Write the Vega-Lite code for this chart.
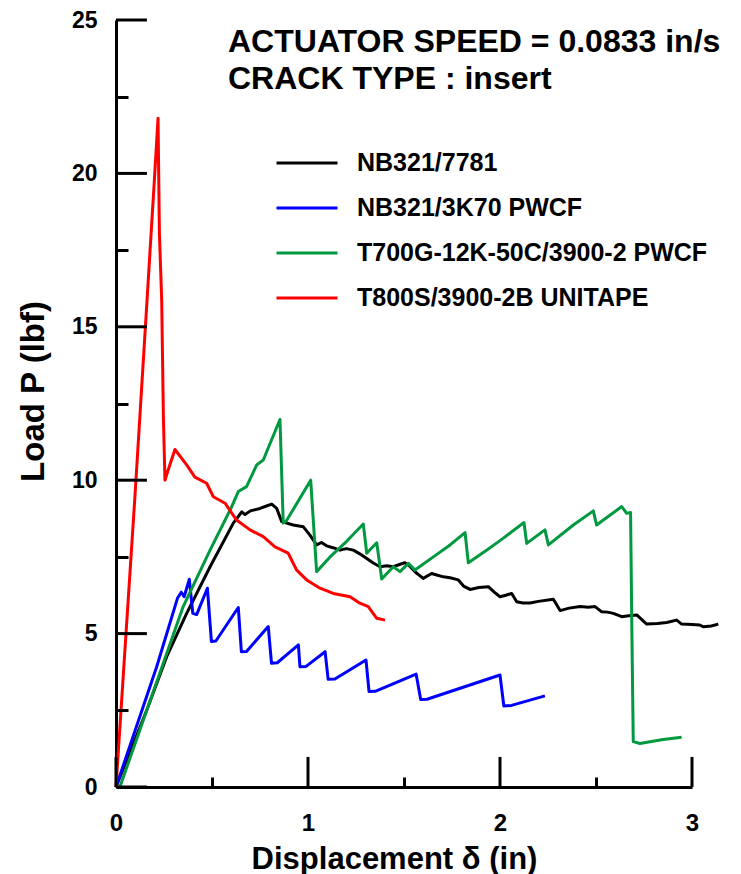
{
  "$schema": "https://vega.github.io/schema/vega-lite/v6.json",
  "width": 576,
  "height": 767,
  "autosize": "none",
  "padding": {"left": 116, "top": 20, "right": 49, "bottom": 87},
  "background": "white",
  "title": {
    "text": ["ACTUATOR SPEED = 0.0833 in/s", "CRACK TYPE : insert"],
    "anchor": "start",
    "frame": "group",
    "orient": "top",
    "offset": 0,
    "dx": 112,
    "dy": 112,
    "font": "Liberation Sans",
    "fontSize": 32,
    "fontWeight": "bold",
    "color": "black",
    "lineHeight": 37,
    "baseline": "alphabetic"
  },
  "datasets": {
    "curves": [
      {"series": "NB321/7781", "x": 0, "y": 0},
      {"series": "NB321/7781", "x": 0.16, "y": 2.5},
      {"series": "NB321/7781", "x": 0.264, "y": 4.25},
      {"series": "NB321/7781", "x": 0.368, "y": 5.66},
      {"series": "NB321/7781", "x": 0.49, "y": 7.18},
      {"series": "NB321/7781", "x": 0.611, "y": 8.6},
      {"series": "NB321/7781", "x": 0.655, "y": 8.97},
      {"series": "NB321/7781", "x": 0.672, "y": 8.88},
      {"series": "NB321/7781", "x": 0.7, "y": 9.0},
      {"series": "NB321/7781", "x": 0.75, "y": 9.08},
      {"series": "NB321/7781", "x": 0.78, "y": 9.15},
      {"series": "NB321/7781", "x": 0.811, "y": 9.22},
      {"series": "NB321/7781", "x": 0.837, "y": 9.08},
      {"series": "NB321/7781", "x": 0.863, "y": 8.65},
      {"series": "NB321/7781", "x": 0.923, "y": 8.54},
      {"series": "NB321/7781", "x": 0.976, "y": 8.48},
      {"series": "NB321/7781", "x": 1.01, "y": 8.21},
      {"series": "NB321/7781", "x": 1.045, "y": 7.89},
      {"series": "NB321/7781", "x": 1.07, "y": 7.97},
      {"series": "NB321/7781", "x": 1.097, "y": 7.86},
      {"series": "NB321/7781", "x": 1.13, "y": 7.8},
      {"series": "NB321/7781", "x": 1.167, "y": 7.72},
      {"series": "NB321/7781", "x": 1.2, "y": 7.77},
      {"series": "NB321/7781", "x": 1.236, "y": 7.72},
      {"series": "NB321/7781", "x": 1.27, "y": 7.6},
      {"series": "NB321/7781", "x": 1.306, "y": 7.45},
      {"series": "NB321/7781", "x": 1.34, "y": 7.3},
      {"series": "NB321/7781", "x": 1.375, "y": 7.18},
      {"series": "NB321/7781", "x": 1.41, "y": 7.21},
      {"series": "NB321/7781", "x": 1.444, "y": 7.18},
      {"series": "NB321/7781", "x": 1.48, "y": 7.26},
      {"series": "NB321/7781", "x": 1.505, "y": 7.31},
      {"series": "NB321/7781", "x": 1.53, "y": 7.2},
      {"series": "NB321/7781", "x": 1.56, "y": 7.0},
      {"series": "NB321/7781", "x": 1.6, "y": 6.8},
      {"series": "NB321/7781", "x": 1.644, "y": 6.96},
      {"series": "NB321/7781", "x": 1.675, "y": 6.9},
      {"series": "NB321/7781", "x": 1.705, "y": 6.85},
      {"series": "NB321/7781", "x": 1.74, "y": 6.82},
      {"series": "NB321/7781", "x": 1.783, "y": 6.75},
      {"series": "NB321/7781", "x": 1.81, "y": 6.55},
      {"series": "NB321/7781", "x": 1.844, "y": 6.44},
      {"series": "NB321/7781", "x": 1.89, "y": 6.5},
      {"series": "NB321/7781", "x": 1.939, "y": 6.53},
      {"series": "NB321/7781", "x": 1.97, "y": 6.35},
      {"series": "NB321/7781", "x": 2.0, "y": 6.2},
      {"series": "NB321/7781", "x": 2.03, "y": 6.25},
      {"series": "NB321/7781", "x": 2.061, "y": 6.31},
      {"series": "NB321/7781", "x": 2.087, "y": 6.04},
      {"series": "NB321/7781", "x": 2.12, "y": 6.0},
      {"series": "NB321/7781", "x": 2.156, "y": 6.0},
      {"series": "NB321/7781", "x": 2.2, "y": 6.05},
      {"series": "NB321/7781", "x": 2.278, "y": 6.12},
      {"series": "NB321/7781", "x": 2.313, "y": 5.75},
      {"series": "NB321/7781", "x": 2.36, "y": 5.83},
      {"series": "NB321/7781", "x": 2.417, "y": 5.88},
      {"series": "NB321/7781", "x": 2.46, "y": 5.86},
      {"series": "NB321/7781", "x": 2.495, "y": 5.88},
      {"series": "NB321/7781", "x": 2.53, "y": 5.71},
      {"series": "NB321/7781", "x": 2.56, "y": 5.7},
      {"series": "NB321/7781", "x": 2.59, "y": 5.66},
      {"series": "NB321/7781", "x": 2.634, "y": 5.55},
      {"series": "NB321/7781", "x": 2.67, "y": 5.58},
      {"series": "NB321/7781", "x": 2.712, "y": 5.61},
      {"series": "NB321/7781", "x": 2.764, "y": 5.31},
      {"series": "NB321/7781", "x": 2.82, "y": 5.33},
      {"series": "NB321/7781", "x": 2.868, "y": 5.36},
      {"series": "NB321/7781", "x": 2.92, "y": 5.44},
      {"series": "NB321/7781", "x": 2.946, "y": 5.31},
      {"series": "NB321/7781", "x": 3.0, "y": 5.3},
      {"series": "NB321/7781", "x": 3.04, "y": 5.28},
      {"series": "NB321/7781", "x": 3.06, "y": 5.22},
      {"series": "NB321/7781", "x": 3.1, "y": 5.25},
      {"series": "NB321/7781", "x": 3.137, "y": 5.31},

      {"series": "NB321/3K70 PWCF", "x": 0, "y": 0},
      {"series": "NB321/3K70 PWCF", "x": 0.212, "y": 3.92},
      {"series": "NB321/3K70 PWCF", "x": 0.32, "y": 6.15},
      {"series": "NB321/3K70 PWCF", "x": 0.34, "y": 6.35},
      {"series": "NB321/3K70 PWCF", "x": 0.355, "y": 6.2},
      {"series": "NB321/3K70 PWCF", "x": 0.382, "y": 6.77},
      {"series": "NB321/3K70 PWCF", "x": 0.4, "y": 5.66},
      {"series": "NB321/3K70 PWCF", "x": 0.42, "y": 5.62},
      {"series": "NB321/3K70 PWCF", "x": 0.476, "y": 6.48},
      {"series": "NB321/3K70 PWCF", "x": 0.497, "y": 4.74},
      {"series": "NB321/3K70 PWCF", "x": 0.52, "y": 4.76},
      {"series": "NB321/3K70 PWCF", "x": 0.637, "y": 5.85},
      {"series": "NB321/3K70 PWCF", "x": 0.653, "y": 4.41},
      {"series": "NB321/3K70 PWCF", "x": 0.68, "y": 4.42},
      {"series": "NB321/3K70 PWCF", "x": 0.793, "y": 5.23},
      {"series": "NB321/3K70 PWCF", "x": 0.81, "y": 4.03},
      {"series": "NB321/3K70 PWCF", "x": 0.84, "y": 4.05},
      {"series": "NB321/3K70 PWCF", "x": 0.95, "y": 4.63},
      {"series": "NB321/3K70 PWCF", "x": 0.958, "y": 3.92},
      {"series": "NB321/3K70 PWCF", "x": 0.99, "y": 3.93},
      {"series": "NB321/3K70 PWCF", "x": 1.089, "y": 4.41},
      {"series": "NB321/3K70 PWCF", "x": 1.105, "y": 3.51},
      {"series": "NB321/3K70 PWCF", "x": 1.14, "y": 3.52},
      {"series": "NB321/3K70 PWCF", "x": 1.302, "y": 4.14},
      {"series": "NB321/3K70 PWCF", "x": 1.318, "y": 3.11},
      {"series": "NB321/3K70 PWCF", "x": 1.35, "y": 3.12},
      {"series": "NB321/3K70 PWCF", "x": 1.563, "y": 3.68},
      {"series": "NB321/3K70 PWCF", "x": 1.587, "y": 2.85},
      {"series": "NB321/3K70 PWCF", "x": 1.62, "y": 2.86},
      {"series": "NB321/3K70 PWCF", "x": 2.0, "y": 3.65},
      {"series": "NB321/3K70 PWCF", "x": 2.02, "y": 2.64},
      {"series": "NB321/3K70 PWCF", "x": 2.06, "y": 2.66},
      {"series": "NB321/3K70 PWCF", "x": 2.234, "y": 2.97},

      {"series": "T700G-12K-50C/3900-2 PWCF", "x": 0.02, "y": 0},
      {"series": "T700G-12K-50C/3900-2 PWCF", "x": 0.35, "y": 5.88},
      {"series": "T700G-12K-50C/3900-2 PWCF", "x": 0.49, "y": 7.72},
      {"series": "T700G-12K-50C/3900-2 PWCF", "x": 0.6, "y": 9.1},
      {"series": "T700G-12K-50C/3900-2 PWCF", "x": 0.637, "y": 9.63},
      {"series": "T700G-12K-50C/3900-2 PWCF", "x": 0.68, "y": 9.79},
      {"series": "T700G-12K-50C/3900-2 PWCF", "x": 0.733, "y": 10.5},
      {"series": "T700G-12K-50C/3900-2 PWCF", "x": 0.767, "y": 10.66},
      {"series": "T700G-12K-50C/3900-2 PWCF", "x": 0.854, "y": 11.98},
      {"series": "T700G-12K-50C/3900-2 PWCF", "x": 0.871, "y": 8.6},
      {"series": "T700G-12K-50C/3900-2 PWCF", "x": 0.89, "y": 8.7},
      {"series": "T700G-12K-50C/3900-2 PWCF", "x": 1.014, "y": 10.0},
      {"series": "T700G-12K-50C/3900-2 PWCF", "x": 1.045, "y": 7.02},
      {"series": "T700G-12K-50C/3900-2 PWCF", "x": 1.115, "y": 7.5},
      {"series": "T700G-12K-50C/3900-2 PWCF", "x": 1.2, "y": 8.0},
      {"series": "T700G-12K-50C/3900-2 PWCF", "x": 1.288, "y": 8.57},
      {"series": "T700G-12K-50C/3900-2 PWCF", "x": 1.306, "y": 7.62},
      {"series": "T700G-12K-50C/3900-2 PWCF", "x": 1.358, "y": 7.96},
      {"series": "T700G-12K-50C/3900-2 PWCF", "x": 1.384, "y": 6.78},
      {"series": "T700G-12K-50C/3900-2 PWCF", "x": 1.444, "y": 7.18},
      {"series": "T700G-12K-50C/3900-2 PWCF", "x": 1.479, "y": 7.02},
      {"series": "T700G-12K-50C/3900-2 PWCF", "x": 1.523, "y": 7.29},
      {"series": "T700G-12K-50C/3900-2 PWCF", "x": 1.557, "y": 7.07},
      {"series": "T700G-12K-50C/3900-2 PWCF", "x": 1.653, "y": 7.5},
      {"series": "T700G-12K-50C/3900-2 PWCF", "x": 1.74, "y": 7.89},
      {"series": "T700G-12K-50C/3900-2 PWCF", "x": 1.818, "y": 8.29},
      {"series": "T700G-12K-50C/3900-2 PWCF", "x": 1.835, "y": 7.31},
      {"series": "T700G-12K-50C/3900-2 PWCF", "x": 1.93, "y": 7.72},
      {"series": "T700G-12K-50C/3900-2 PWCF", "x": 2.0, "y": 8.03},
      {"series": "T700G-12K-50C/3900-2 PWCF", "x": 2.125, "y": 8.62},
      {"series": "T700G-12K-50C/3900-2 PWCF", "x": 2.139, "y": 7.94},
      {"series": "T700G-12K-50C/3900-2 PWCF", "x": 2.234, "y": 8.38},
      {"series": "T700G-12K-50C/3900-2 PWCF", "x": 2.252, "y": 7.89},
      {"series": "T700G-12K-50C/3900-2 PWCF", "x": 2.382, "y": 8.54},
      {"series": "T700G-12K-50C/3900-2 PWCF", "x": 2.486, "y": 9.0},
      {"series": "T700G-12K-50C/3900-2 PWCF", "x": 2.503, "y": 8.54},
      {"series": "T700G-12K-50C/3900-2 PWCF", "x": 2.634, "y": 9.14},
      {"series": "T700G-12K-50C/3900-2 PWCF", "x": 2.66, "y": 8.92},
      {"series": "T700G-12K-50C/3900-2 PWCF", "x": 2.68, "y": 8.95},
      {"series": "T700G-12K-50C/3900-2 PWCF", "x": 2.687, "y": 5.0},
      {"series": "T700G-12K-50C/3900-2 PWCF", "x": 2.694, "y": 1.48},
      {"series": "T700G-12K-50C/3900-2 PWCF", "x": 2.729, "y": 1.42},
      {"series": "T700G-12K-50C/3900-2 PWCF", "x": 2.85, "y": 1.55},
      {"series": "T700G-12K-50C/3900-2 PWCF", "x": 2.946, "y": 1.62},

      {"series": "T800S/3900-2B UNITAPE", "x": 0.0, "y": 0},
      {"series": "T800S/3900-2B UNITAPE", "x": 0.1, "y": 9.6},
      {"series": "T800S/3900-2B UNITAPE", "x": 0.16, "y": 15.7},
      {"series": "T800S/3900-2B UNITAPE", "x": 0.2, "y": 19.8},
      {"series": "T800S/3900-2B UNITAPE", "x": 0.219, "y": 21.8},
      {"series": "T800S/3900-2B UNITAPE", "x": 0.226, "y": 18.05},
      {"series": "T800S/3900-2B UNITAPE", "x": 0.238, "y": 15.87},
      {"series": "T800S/3900-2B UNITAPE", "x": 0.247, "y": 12.0},
      {"series": "T800S/3900-2B UNITAPE", "x": 0.255, "y": 10.0},
      {"series": "T800S/3900-2B UNITAPE", "x": 0.27, "y": 10.3},
      {"series": "T800S/3900-2B UNITAPE", "x": 0.307, "y": 11.0},
      {"series": "T800S/3900-2B UNITAPE", "x": 0.368, "y": 10.5},
      {"series": "T800S/3900-2B UNITAPE", "x": 0.411, "y": 10.1},
      {"series": "T800S/3900-2B UNITAPE", "x": 0.472, "y": 9.9},
      {"series": "T800S/3900-2B UNITAPE", "x": 0.507, "y": 9.46},
      {"series": "T800S/3900-2B UNITAPE", "x": 0.568, "y": 9.25},
      {"series": "T800S/3900-2B UNITAPE", "x": 0.628, "y": 8.7},
      {"series": "T800S/3900-2B UNITAPE", "x": 0.698, "y": 8.38},
      {"series": "T800S/3900-2B UNITAPE", "x": 0.767, "y": 8.16},
      {"series": "T800S/3900-2B UNITAPE", "x": 0.828, "y": 7.83},
      {"series": "T800S/3900-2B UNITAPE", "x": 0.897, "y": 7.62},
      {"series": "T800S/3900-2B UNITAPE", "x": 0.941, "y": 7.07},
      {"series": "T800S/3900-2B UNITAPE", "x": 0.993, "y": 6.75},
      {"series": "T800S/3900-2B UNITAPE", "x": 1.0625, "y": 6.48},
      {"series": "T800S/3900-2B UNITAPE", "x": 1.132, "y": 6.31},
      {"series": "T800S/3900-2B UNITAPE", "x": 1.219, "y": 6.2},
      {"series": "T800S/3900-2B UNITAPE", "x": 1.27, "y": 5.99},
      {"series": "T800S/3900-2B UNITAPE", "x": 1.314, "y": 5.88},
      {"series": "T800S/3900-2B UNITAPE", "x": 1.358, "y": 5.5},
      {"series": "T800S/3900-2B UNITAPE", "x": 1.401, "y": 5.44}
    ],
    "xMajorTicks": [{"v": 0}, {"v": 1}, {"v": 2}, {"v": 3}],
    "yMajorTicks": [{"v": 0}, {"v": 5}, {"v": 10}, {"v": 15}, {"v": 20}, {"v": 25}]
  },
  "layer": [
    {
      "data": {"name": "curves"},
      "mark": {"type": "line", "strokeWidth": 3, "strokeJoin": "round"},
      "encoding": {
        "x": {
          "field": "x",
          "type": "quantitative",
          "scale": {"domain": [0, 3], "nice": false, "zero": false},
          "axis": {
            "orient": "bottom",
            "title": "Displacement δ (in)",
            "values": [0, 1, 2, 3],
            "format": "d",
            "grid": false,
            "ticks": false,
            "domainColor": "black",
            "domainWidth": 3,
            "labelFont": "Liberation Sans",
            "labelFontSize": 24,
            "labelFontWeight": "bold",
            "labelColor": "black",
            "labelPadding": 24,
            "labelFlush": false,
            "labelOverlap": false,
            "titleFont": "Liberation Sans",
            "titleFontSize": 31,
            "titleFontWeight": "bold",
            "titleColor": "black",
            "titleX": 278,
            "titleY": 81,
            "titleBaseline": "alphabetic"
          }
        },
        "y": {
          "field": "y",
          "type": "quantitative",
          "scale": {"domain": [0, 25], "nice": false},
          "axis": {
            "orient": "left",
            "title": "Load P (lbf)",
            "values": [0, 5, 10, 15, 20, 25],
            "grid": false,
            "ticks": false,
            "domainColor": "black",
            "domainWidth": 3,
            "labelFont": "Liberation Sans",
            "labelFontSize": 23,
            "labelFontWeight": "bold",
            "labelColor": "black",
            "labelPadding": 19,
            "labelFlush": false,
            "labelOverlap": false,
            "titleFont": "Liberation Sans",
            "titleFontSize": 33,
            "titleFontWeight": "bold",
            "titleColor": "black",
            "titleX": -73,
            "titleY": 371,
            "titleBaseline": "alphabetic"
          }
        },
        "color": {
          "field": "series",
          "type": "nominal",
          "sort": ["NB321/7781", "NB321/3K70 PWCF", "T700G-12K-50C/3900-2 PWCF", "T800S/3900-2B UNITAPE"],
          "scale": {
            "domain": ["NB321/7781", "NB321/3K70 PWCF", "T700G-12K-50C/3900-2 PWCF", "T800S/3900-2B UNITAPE"],
            "range": ["#000000", "#0000ff", "#00993f", "#ff0000"]
          },
          "legend": {
            "orient": "none",
            "legendX": 159,
            "legendY": 111,
            "title": null,
            "padding": 0,
            "symbolType": "stroke",
            "symbolSize": 3721,
            "symbolStrokeWidth": 3,
            "labelFont": "Liberation Sans",
            "labelFontSize": 25,
            "labelFontWeight": "bold",
            "labelColor": "black",
            "labelOffset": 18,
            "labelLimit": 600,
            "rowPadding": -11
          }
        }
      }
    },
    {
      "data": {"name": "xMajorTicks"},
      "mark": {"type": "rule", "color": "black", "strokeWidth": 3},
      "encoding": {
        "x": {"field": "v", "type": "quantitative", "axis": null},
        "y": {"datum": 0, "type": "quantitative", "axis": null},
        "y2": {"datum": 0.98}
      }
    },
    {
      "data": {"name": "yMajorTicks"},
      "mark": {"type": "rule", "color": "black", "strokeWidth": 3},
      "encoding": {
        "y": {"field": "v", "type": "quantitative", "axis": null},
        "x": {"datum": 0, "type": "quantitative", "axis": null},
        "x2": {"datum": 0.161}
      }
    },
    {
      "data": {"name": "curves"},
      "mark": {"type": "line", "opacity": 0},
      "encoding": {
        "x": {
          "field": "x",
          "type": "quantitative",
          "axis": {
            "orient": "bottom",
            "title": null,
            "values": [0.5, 1.5, 2.5],
            "labels": false,
            "domain": false,
            "grid": false,
            "tickColor": "black",
            "tickWidth": 3,
            "tickSize": -10,
            "zindex": 5
          }
        },
        "y": {
          "field": "y",
          "type": "quantitative",
          "axis": {
            "orient": "left",
            "title": null,
            "values": [2.5, 7.5, 12.5, 17.5, 22.5],
            "labels": false,
            "domain": false,
            "grid": false,
            "tickColor": "black",
            "tickWidth": 3,
            "tickSize": -12,
            "zindex": 5
          }
        }
      }
    }
  ],
  "resolve": {"axis": {"x": "independent", "y": "independent"}},
  "config": {
    "view": {"stroke": null},
    "font": "Liberation Sans"
  }
}
